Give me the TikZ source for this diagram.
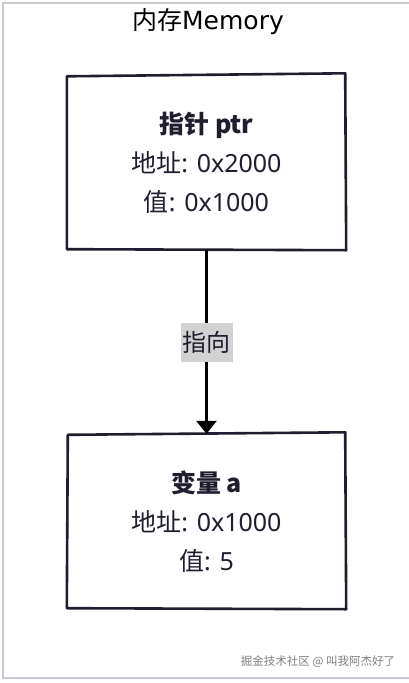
\documentclass[tikz,border=0pt]{standalone}
\usepackage{fontspec}
\setmainfont{Noto Sans CJK SC}
\newfontfamily\titlelatin{DejaVu Sans}
\newfontfamily\boxlatin{Noto Sans}
\usetikzlibrary{arrows.meta}
\definecolor{ink}{HTML}{1E1E2E}
\definecolor{framec}{HTML}{C8C8D2}
\definecolor{labelbg}{HTML}{D2D2D2}
\tikzset{
  memtext/.style={text=ink, align=center, font=\fontsize{25}{39}\selectfont},
  roughbox/.style={draw=ink, line width=2.6pt, line cap=round, line join=round},
  holder/.style={minimum width=277pt, minimum height=175pt, inner sep=0pt},
  pointer/.style={line width=3pt, -{Triangle[length=13pt,width=20pt]}},
  arrowlabel/.style={fill=labelbg, text=ink, font=\fontsize{24}{28}\selectfont, inner xsep=2pt, minimum height=39pt},
}
\begin{document}
\begin{tikzpicture}[x=1pt,y=-1pt]
\useasboundingbox (0,0) rectangle (409,683);
\fill[white] (0,0) rectangle (409,683);
% outer frame
\coordinate (ftr) at (409,3);
\coordinate (ftl) at (3,3);
\coordinate (fbl) at (3,678);
\coordinate (fbr) at (409,678);
\draw[framec, line width=2.5pt] (ftr) -- (ftl) -- (fbl) -- (fbr);
% title
\node[text=black, font=\fontsize{25}{30}\selectfont, inner sep=0pt] (title) at (208,22) {内存{\titlelatin Memory}};
% boxes
\node[holder] (ptr) at (206.5,162.5) {};
\node[holder] (var) at (206.5,521.5) {};
\draw[roughbox] ([shift={(-1,1.5)}]ptr.north west) -- ([shift={(0,-1.5)}]ptr.north east) -- ([shift={(1,0)}]ptr.south east) -- ([shift={(-1,-1)}]ptr.south west) -- cycle;
\draw[roughbox] ([shift={(0,1)}]var.north west) -- ([shift={(0,-1.5)}]var.north east) -- ([shift={(1,0)}]var.south east) -- ([shift={(-1,-1)}]var.south west) -- cycle;
\node[memtext] (ptrtext) at (ptr.center) {\textbf{指针 ptr}\\地址{\boxlatin: 0x2000}\\值{\boxlatin: 0x1000}};
\node[memtext] (vartext) at (var.center) {\textbf{变量 a}\\地址{\boxlatin: 0x1000}\\值{\boxlatin: 5}};
% arrow
\draw[pointer] (ptr.south) -- (var.north) node[arrowlabel, pos=0.5] (lab) {指向};
% watermark
\node[text=black!50, font=\fontsize{11.5}{14}\selectfont] (wm) at (318,662) {掘金技术社区 @ 叫我阿杰好了};
\end{tikzpicture}
\end{document}
